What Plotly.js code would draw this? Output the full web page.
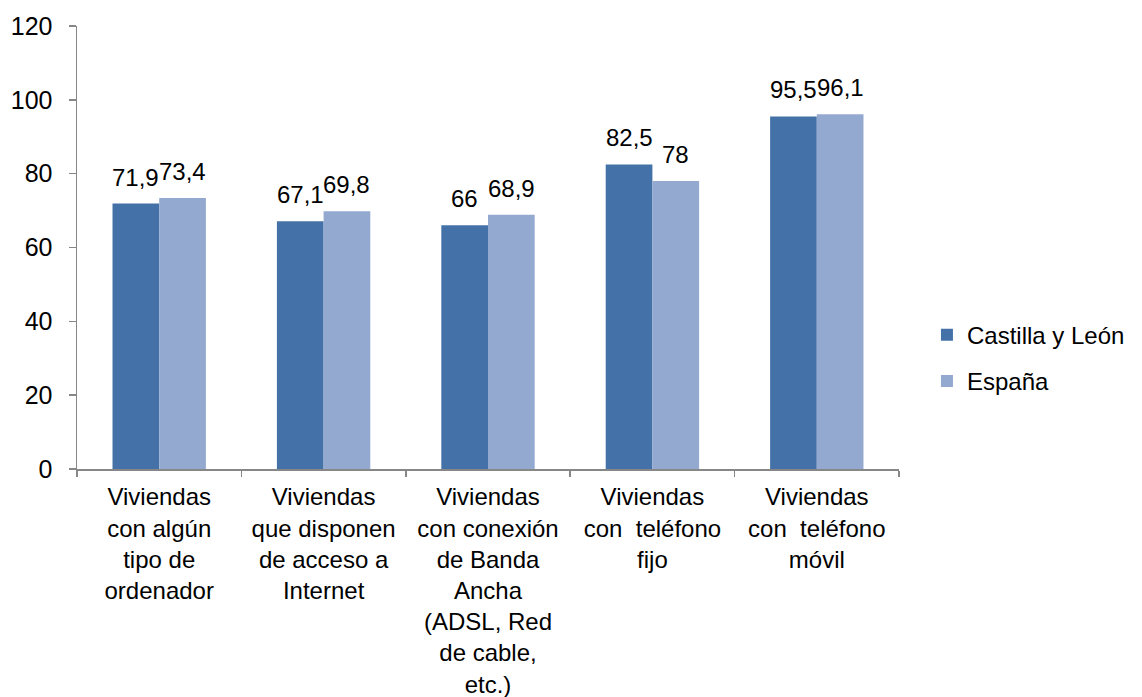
<!DOCTYPE html>
<html>
<head>
<meta charset="utf-8">
<script src="https://cdn.plot.ly/plotly-3.0.1.min.js"></script>
<style>html,body{margin:0;padding:0;background:#fff;}#chart{width:1142px;height:697px;}</style>
</head>
<body>
<div id="chart"></div>
<script>
var categories = [
  "Viviendas<br>con algún<br>tipo de<br>ordenador",
  "Viviendas<br>que disponen<br>de acceso a<br>Internet",
  "Viviendas<br>con conexión<br>de Banda<br>Ancha<br>(ADSL, Red<br>de cable,<br>etc.)",
  "Viviendas<br>con  teléfono<br>fijo",
  "Viviendas<br>con  teléfono<br>móvil"
];
var castillaLeon = [71.9, 67.1, 66, 82.5, 95.5];
var espana = [73.4, 69.8, 68.9, 78, 96.1];
var seriesNames = ["Castilla y León", "España"];
var yTicks = [0, 20, 40, 60, 80, 100, 120];

var colors = ["#4472A8", "#93A9D0"];
var FONT = "Liberation Sans, Arial, sans-serif";
var bargap = 0.432;

function fmt(v) { return String(v).replace('.', ','); }

var seriesList = [castillaLeon, espana];
var traces = seriesList.map(function (vals, s) {
  return {
    type: 'bar',
    name: seriesNames[s],
    x: categories,
    y: vals,
    marker: {color: colors[s]},
    legendgroup: 'g' + s,
    hoverinfo: 'y'
  };
});

var annotations = [];
seriesList.forEach(function (vals, s) {
  var off = (s === 0 ? -1 : 1) * (1 - bargap) / 4;
  vals.forEach(function (v, i) {
    annotations.push({
      x: i + off, y: v, xref: 'x', yref: 'y',
      text: fmt(v), showarrow: false,
      yanchor: 'bottom', xanchor: 'center', yshift: 11,
      font: {family: FONT, size: 24, color: '#000'}
    });
  });
});

var layout = {
  width: 1142, height: 697,
  margin: {l: 77, r: 237, t: 26, b: 228},
  paper_bgcolor: '#fff', plot_bgcolor: '#fff',
  font: {family: FONT, size: 24, color: '#000'},
  barmode: 'group', bargap: bargap, bargroupgap: 0,
  showlegend: true,
  legend: {
    x: 1.034, y: 0.25, xanchor: 'left', yanchor: 'middle',
    font: {family: FONT, size: 24, color: '#000'},
    traceorder: 'grouped', tracegroupgap: 12,
    bgcolor: 'rgba(0,0,0,0)'
  },
  xaxis: {
    type: 'category',
    showline: true, linecolor: '#878787', linewidth: 1.5,
    ticks: 'outside', ticklen: 6, tickcolor: '#878787', tickwidth: 1.5,
    tickson: 'boundaries',
    showgrid: false, zeroline: false,
    tickfont: {family: FONT, size: 24, color: '#000'},
    ticklabelstandoff: 6
  },
  yaxis: {
    range: [0, 120],
    tickvals: yTicks,
    ticktext: yTicks.map(String),
    showline: true, linecolor: '#878787', linewidth: 1.5,
    ticks: 'outside', ticklen: 7, tickcolor: '#878787', tickwidth: 1.5,
    showgrid: false, zeroline: false,
    tickfont: {family: FONT, size: 25, color: '#000'},
    ticklabelstandoff: 11
  },
  annotations: annotations
};

Plotly.newPlot('chart', traces, layout, {displayModeBar: false, staticPlot: true});
</script>
</body>
</html>
